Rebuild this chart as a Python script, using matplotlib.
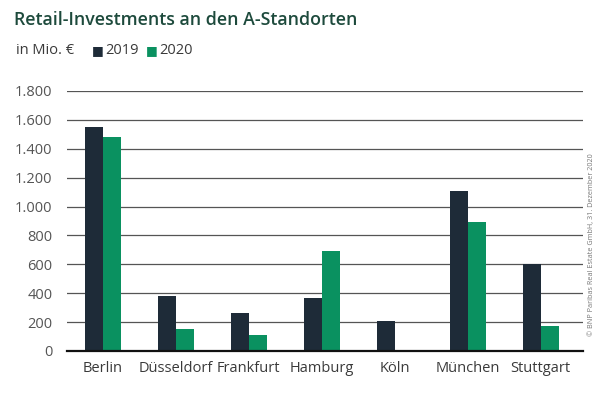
import matplotlib.pyplot as plt
import numpy as np

# Daten
staedte = ['Berlin', 'Düsseldorf', 'Frankfurt', 'Hamburg', 'Köln', 'München', 'Stuttgart']
werte_2019 = [1550, 380, 265, 370, 205, 1105, 600]
werte_2020 = [1485, 150, 110, 695, 10, 890, 175]
yticks = [0, 200, 400, 600, 800, 1000, 1200, 1400, 1600, 1800]
ytick_labels = ['0', '200', '400', '600', '800', '1.000', '1.200', '1.400', '1.600', '1.800']

farbe_2019 = '#1e2b38'
farbe_2020 = '#0a9160'
textfarbe = '#3a3a3a'

plt.rcParams['font.family'] = ['Open Sans', 'DejaVu Sans']

fig = plt.figure(figsize=(6, 3.95), dpi=100)
ax = fig.add_axes([67 / 600, 1 - 351 / 395, (583 - 67) / 600, (351 - 91) / 395])

x = np.arange(len(staedte))
breite = 0.247
ax.bar(x - breite / 2, werte_2019, width=breite, color=farbe_2019, zorder=3)
ax.bar(x + breite / 2, werte_2020, width=breite, color=farbe_2020, zorder=3)

ax.set_xlim(-0.49, 6.58)
ax.set_ylim(0, 1800)
ax.set_yticks(yticks)
ax.set_yticklabels(ytick_labels)
ax.set_xticks(x)
ax.set_xticklabels(staedte)
ax.tick_params(axis='both', length=0, labelsize=10.5, labelcolor=textfarbe)
ax.tick_params(axis='y', pad=10.5)
ax.tick_params(axis='x', pad=7)
for lbl in ax.get_yticklabels():
    lbl.set_color('#555555')

ax.grid(axis='y', color='#555555', linewidth=0.9, zorder=0)
for s in ['top', 'right', 'left']:
    ax.spines[s].set_visible(False)
ax.spines['bottom'].set_color('#111111')
ax.spines['bottom'].set_linewidth(1.6)
ax.spines['bottom'].set_zorder(4)

# Titel und Legende
fig.text(14 / 600, 1 - 20 / 395, 'Retail-Investments an den A-Standorten', fontsize=12.8,
         fontweight='semibold', color='#1d4a3c', va='center', ha='left')
fig.text(16 / 600, 1 - 50 / 395, 'in Mio. €', fontsize=10.5, color=textfarbe, va='center')
fig.text(92 / 600, 1 - 51 / 395, '■', fontsize=9, color=farbe_2019, va='center')
fig.text(105 / 600, 1 - 50 / 395, '2019', fontsize=10.5, color=textfarbe, va='center')
fig.text(146 / 600, 1 - 51 / 395, '■', fontsize=9, color=farbe_2020, va='center')
fig.text(159 / 600, 1 - 50 / 395, '2020', fontsize=10.5, color=textfarbe, va='center')

fig.text(592 / 600, 1 - 245 / 395, '© BNP Paribas Real Estate GmbH, 31. Dezember 2020',
         fontsize=5.2, color='#777777', rotation=90, va='center', ha='center')

plt.savefig('out.png', dpi=100)
